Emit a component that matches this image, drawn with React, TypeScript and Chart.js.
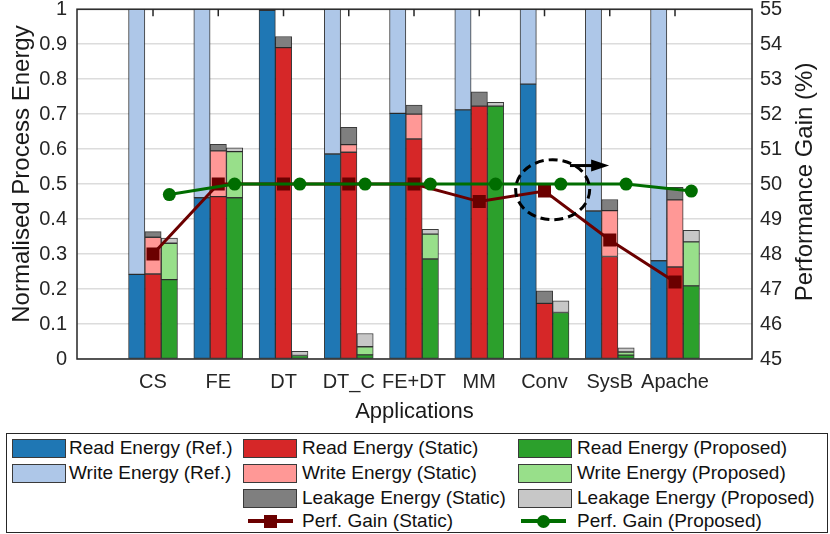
import React, { useEffect, useRef } from 'react';
import { Chart, registerables } from 'chart.js';

Chart.register(...registerables);

const categories = ['CS', 'FE', 'DT', 'DT_C', 'FE+DT', 'MM', 'Conv', 'SysB', 'Apache'];

// Reference (bars reach beyond the axis limit of 1)
const refRead = [0.242, 0.461, 0.997, 0.586, 0.702, 0.712, 0.786, 0.423, 0.281];
const refWrite = [0.9, 0.75, 0.2, 0.6, 0.5, 0.45, 0.4, 0.75, 0.9];

// Static
const staticRead = [0.243, 0.464, 0.89, 0.591, 0.629, 0.723, 0.159, 0.293, 0.263];
const staticWrite = [0.105, 0.131, 0.0, 0.022, 0.071, 0.0, 0.0, 0.131, 0.192];
const staticLeak = [0.016, 0.019, 0.032, 0.049, 0.026, 0.041, 0.036, 0.032, 0.036];

// Proposed
const propRead = [0.227, 0.461, 0.01, 0.012, 0.286, 0.723, 0.133, 0.011, 0.209];
const propWrite = [0.104, 0.132, 0.0, 0.023, 0.071, 0.0, 0.0, 0.009, 0.126];
const propLeak = [0.015, 0.011, 0.012, 0.038, 0.014, 0.011, 0.033, 0.012, 0.033];

// Performance gain (%)
const perfStatic = [48.0, 50.0, 50.0, 50.0, 50.0, 49.5, 49.8, 48.4, 47.2];
const perfProposed = [49.7, 50.0, 50.0, 50.0, 50.0, 50.0, 50.0, 50.0, 49.8];

const leftTicks = [0, 0.1, 0.2, 0.3, 0.4, 0.5, 0.6, 0.7, 0.8, 0.9, 1];
const rightTicks = [45, 46, 47, 48, 49, 50, 51, 52, 53, 54, 55];

const FONT = '"Liberation Sans", Arial, Helvetica, sans-serif';
const C = {
  refRead: '#1f77b4',
  refWrite: '#aec7e8',
  stRead: '#d62728',
  stWrite: '#ff9896',
  stLeak: '#7f7f7f',
  prRead: '#2ca02c',
  prWrite: '#98df8a',
  prLeak: '#c7c7c7',
  stLine: '#6b0000',
  prLine: '#006d00',
};

const overlayPlugin = {
  id: 'overlay',
  afterDraw(chart: any) {
    const { ctx, chartArea: a, scales } = chart;
    const x = scales.x;
    const y1 = scales.y1;
    ctx.save();
    // axes box
    ctx.strokeStyle = '#262626';
    ctx.lineWidth = 1.5;
    ctx.strokeRect(a.left, a.top, a.right - a.left, a.bottom - a.top);
    // top tick marks
    ctx.beginPath();
    categories.forEach((_, i) => {
      const px = x.getPixelForValue(i + 1);
      ctx.moveTo(px, a.top);
      ctx.lineTo(px, a.top + 7);
    });
    ctx.stroke();

    // dashed ellipse annotation around Conv point + arrow to right axis
    const cx = x.getPixelForValue(7.125);
    const cy = y1.getPixelForValue(49.84);
    ctx.setLineDash([9, 5]);
    ctx.lineWidth = 3;
    ctx.strokeStyle = '#000';
    ctx.beginPath();
    ctx.ellipse(cx, cy, 37, 30, 0, 0, Math.PI * 2);
    ctx.stroke();
    ctx.setLineDash([]);
    const ax0 = x.getPixelForValue(7.39);
    const ax1 = x.getPixelForValue(7.99);
    const ay = y1.getPixelForValue(50.53);
    ctx.beginPath();
    ctx.moveTo(ax0, ay);
    ctx.lineTo(ax1 - 12, ay);
    ctx.stroke();
    ctx.fillStyle = '#000';
    ctx.beginPath();
    ctx.moveTo(ax1, ay);
    ctx.lineTo(ax1 - 18, ay - 6);
    ctx.lineTo(ax1 - 18, ay + 6);
    ctx.closePath();
    ctx.fill();

    // y axis titles
    ctx.fillStyle = '#1a1a1a';
    ctx.font = `24px ${FONT}`;
    ctx.textAlign = 'center';
    ctx.textBaseline = 'middle';
    ctx.save();
    ctx.translate(22, 174);
    ctx.rotate(-Math.PI / 2);
    ctx.fillText('Normalised Process Energy', 0, 0);
    ctx.restore();
    ctx.save();
    ctx.translate(805, 182);
    ctx.rotate(-Math.PI / 2);
    ctx.fillText('Performance Gain (%)', 0, 0);
    ctx.restore();
    ctx.restore();
  },
};

export default function App() {
  const ref = useRef<HTMLCanvasElement>(null);

  useEffect(() => {
    const canvas = ref.current;
    if (!canvas) return;
    const bar = (label: string, values: number[], offset: number, color: string) => ({
      type: 'bar' as const,
      label,
      data: values.map((v, i) => ({ x: i + 1 + offset, y: v })),
      backgroundColor: color,
      borderColor: 'rgba(25,25,25,0.85)',
      borderWidth: 1,
      borderSkipped: false,
      barPercentage: 1,
      categoryPercentage: 1,
      clip: 0,
      order: 2,
      xAxisID: 'x',
      yAxisID: 'y',
    });
    const chart = new Chart(canvas, {
      type: 'bar',
      data: {
        datasets: [
          bar('Read Energy (Ref.)', refRead, -0.25, C.refRead),
          bar('Write Energy (Ref.)', refWrite, -0.25, C.refWrite),
          bar('Read Energy (Static)', staticRead, 0, C.stRead),
          bar('Write Energy (Static)', staticWrite, 0, C.stWrite),
          bar('Leakage Energy (Static)', staticLeak, 0, C.stLeak),
          bar('Read Energy (Proposed)', propRead, 0.25, C.prRead),
          bar('Write Energy (Proposed)', propWrite, 0.25, C.prWrite),
          bar('Leakage Energy (Proposed)', propLeak, 0.25, C.prLeak),
          {
            type: 'line' as const,
            label: 'Perf. Gain (Static)',
            data: perfStatic.map((v, i) => ({ x: i + 1, y: v })),
            borderColor: C.stLine,
            backgroundColor: C.stLine,
            borderWidth: 3,
            pointStyle: 'rect',
            pointRadius: 9.2,
            pointBorderWidth: 0,
            order: 1,
            xAxisID: 'x',
            yAxisID: 'y1',
          } as any,
          {
            type: 'line' as const,
            label: 'Perf. Gain (Proposed)',
            data: perfProposed.map((v, i) => ({ x: i + 1.25, y: v })),
            borderColor: C.prLine,
            backgroundColor: C.prLine,
            borderWidth: 3,
            pointStyle: 'circle',
            pointRadius: 6.5,
            pointBorderWidth: 0,
            order: 0,
            xAxisID: 'x',
            yAxisID: 'y1',
          } as any,
        ] as any,
      },
      options: {
        responsive: false,
        animation: false,
        events: [],
        layout: { padding: { top: 8, left: 0, right: 0, bottom: 0 } },
        plugins: { legend: { display: false }, tooltip: { enabled: false } },
        scales: {
          x: {
            type: 'linear',
            min: -0.165,
            max: 10.18,
            offset: false,
            stacked: true,
            grid: { display: false, drawTicks: false, offset: false },
            border: { display: false },
            afterBuildTicks: (s: any) => {
              s.ticks = categories.map((_, i) => ({ value: i + 1 }));
            },
            afterFit: (s: any) => {
              s.height = 71;
              s.paddingLeft = 0;
              s.paddingRight = 0;
            },
            ticks: {
              autoSkip: false,
              maxRotation: 0,
              padding: 11,
              color: '#262626',
              font: { family: FONT, size: 20 },
              callback: (v: any) => categories[Math.round(Number(v)) - 1] ?? '',
            },
            title: {
              display: true,
              text: 'Applications',
              color: '#1a1a1a',
              font: { family: FONT, size: 22 },
              padding: { top: 0, bottom: 5 },
            },
          },
          y: {
            type: 'linear',
            position: 'left',
            min: 0,
            max: 1,
            stacked: true,
            afterBuildTicks: (s: any) => {
              s.ticks = leftTicks.map((v) => ({ value: v }));
            },
            afterFit: (s: any) => {
              s.width = 77;
              s.paddingTop = 0;
              s.paddingBottom = 0;
            },
            grid: { color: '#dcdcdc', lineWidth: 1.4, drawTicks: false },
            border: { display: false },
            ticks: {
              padding: 10,
              color: '#262626',
              font: { family: FONT, size: 20 },
              callback: (v: any) => String(Math.round(Number(v) * 10) / 10),
            },
          },
          y1: {
            type: 'linear',
            position: 'right',
            min: 45,
            max: 55,
            stacked: false,
            afterBuildTicks: (s: any) => {
              s.ticks = rightTicks.map((v) => ({ value: v }));
            },
            afterFit: (s: any) => {
              s.width = 78;
              s.paddingTop = 0;
              s.paddingBottom = 0;
            },
            grid: { display: false, drawTicks: false },
            border: { display: false },
            ticks: {
              padding: 8,
              color: '#262626',
              font: { family: FONT, size: 20 },
              callback: (v: any) => String(v),
            },
          },
        },
      } as any,
      plugins: [overlayPlugin],
    });
    return () => chart.destroy();
  }, []);

  const swatch = (left: number, top: number, color: string) => (
    <div
      style={{
        position: 'absolute',
        left,
        top,
        width: 54,
        height: 19,
        boxSizing: 'border-box',
        background: color,
        border: '1.5px solid #3a3a3a',
      }}
    />
  );
  const label = (left: number, yc: number, text: string) => (
    <div
      style={{
        position: 'absolute',
        left,
        top: yc,
        transform: 'translateY(-50%)',
        fontSize: 19,
        lineHeight: '22px',
        whiteSpace: 'nowrap',
        color: '#111',
      }}
    >
      {text}
    </div>
  );
  const lineKey = (left: number, yc: number, color: string, marker: 'rect' | 'circle') => (
    <div style={{ position: 'absolute', left, top: yc - 2, width: 45, height: 4, background: color }}>
      <div
        style={{
          position: 'absolute',
          left: 22.5 - 6.5,
          top: 2 - 6.5,
          width: 13,
          height: 13,
          background: color,
          borderRadius: marker === 'circle' ? '50%' : 0,
        }}
      />
    </div>
  );

  const rows = [448, 473, 498, 521];

  return (
    <div
      style={{
        position: 'fixed',
        left: 0,
        top: 0,
        width: 830,
        height: 534,
        background: '#fff',
        fontFamily: FONT,
        overflow: 'hidden',
      }}
    >
      <canvas ref={ref} width={830} height={430} style={{ position: 'absolute', left: 0, top: 0, width: 830, height: 430 }} />
      <div
        style={{
          position: 'absolute',
          left: 6,
          top: 433,
          width: 822,
          height: 100,
          boxSizing: 'border-box',
          border: '1.5px solid #262626',
        }}
      />
      {swatch(12, rows[0] - 9.5, C.refRead)}
      {label(69, rows[0], 'Read Energy (Ref.)')}
      {swatch(12, rows[1] - 9.5, C.refWrite)}
      {label(69, rows[1], 'Write Energy (Ref.)')}

      {swatch(243, rows[0] - 9.5, C.stRead)}
      {label(302, rows[0], 'Read Energy (Static)')}
      {swatch(243, rows[1] - 9.5, C.stWrite)}
      {label(302, rows[1], 'Write Energy (Static)')}
      {swatch(243, rows[2] - 9.5, C.stLeak)}
      {label(302, rows[2], 'Leakage Energy (Static)')}
      {lineKey(248, rows[3], C.stLine, 'rect')}
      {label(302, rows[3], 'Perf. Gain (Static)')}

      {swatch(518, rows[0] - 9.5, C.prRead)}
      {label(577, rows[0], 'Read Energy (Proposed)')}
      {swatch(518, rows[1] - 9.5, C.prWrite)}
      {label(577, rows[1], 'Write Energy (Proposed)')}
      {swatch(518, rows[2] - 9.5, C.prLeak)}
      {label(577, rows[2], 'Leakage Energy (Proposed)')}
      {lineKey(521, rows[3], C.prLine, 'circle')}
      {label(577, rows[3], 'Perf. Gain (Proposed)')}
    </div>
  );
}
